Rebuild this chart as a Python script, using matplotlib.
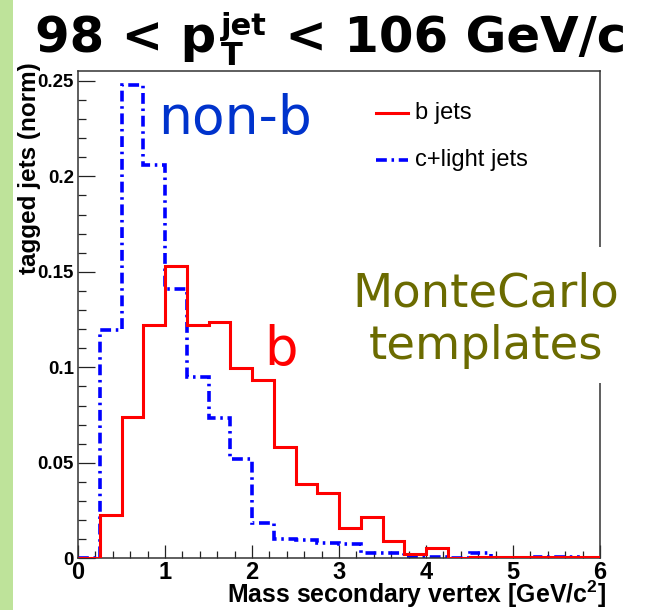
import numpy as np
import matplotlib
matplotlib.use("Agg")
import matplotlib.pyplot as plt
from matplotlib.patches import Rectangle
from matplotlib.ticker import MultipleLocator

plt.rcParams['mathtext.fontset'] = 'custom'
plt.rcParams['mathtext.bf'] = 'Liberation Sans:bold'
plt.rcParams['mathtext.rm'] = 'Liberation Sans'

# ---- data ----
bin_edges = np.arange(0, 6.0001, 0.25)
b_jets = [0.0, 0.0227, 0.0738, 0.1223, 0.1530, 0.1221, 0.1240, 0.0998,
          0.0932, 0.0583, 0.0387, 0.0340, 0.0160, 0.0214, 0.0089, 0.0023,
          0.0053, 0.0003, 0.0008, 0.0008, 0.0005, 0.0005, 0.0005, 0.0005]
c_light_jets = [0.0, 0.1195, 0.2478, 0.2059, 0.1410, 0.0948, 0.0733, 0.0520,
                0.0185, 0.0100, 0.0095, 0.0082, 0.0073, 0.0026, 0.0026, 0.0008,
                0.0008, 0.0002, 0.0026, 0.0002, 0.0002, 0.0008, 0.0008, 0.0003]
x_ticks = [0, 1, 2, 3, 4, 5, 6]
y_ticks = [0, 0.05, 0.1, 0.15, 0.2, 0.25]
y_tick_labels = ["0", "0.05", "0.1", "0.15", "0.2", "0.25"]

W, H = 648, 610
fig = plt.figure(figsize=(W / 100, H / 100), dpi=100)
fig.patch.set_facecolor('white')


def fx(px):
    return px / W


def fy(py):
    return (H - py) / H


# green strip at left
fig.patches.append(Rectangle((0, 0), 13 / W, 1, transform=fig.transFigure,
                             facecolor='#bee39a', edgecolor='none', zorder=0))

ax = fig.add_axes([78 / W, (H - 558.3) / H, 522 / W, 487.3 / H])
ax.set_xlim(0, 6)
ax.set_ylim(0, 0.2552)

dashdot = (0, (3.0, 1.3, 0.7, 1.3))
ax.stairs(c_light_jets, bin_edges, baseline=None, color='#0000ff', lw=2.6,
          linestyle=dashdot, zorder=2)
ax.stairs(b_jets, bin_edges, baseline=None, color='#ff0000', lw=2.2, zorder=3)

for s in ax.spines.values():
    s.set_color('#333333')
    s.set_linewidth(1.1)

ax.set_xticks(x_ticks)
ax.set_xticklabels([str(t) for t in x_ticks])
ax.xaxis.set_minor_locator(MultipleLocator(0.2))
ax.set_yticks(y_ticks)
ax.set_yticklabels(y_tick_labels)
ax.yaxis.set_minor_locator(MultipleLocator(0.01))
ax.tick_params(axis='x', which='major', direction='in', length=9.5, width=0.9,
               colors='#222222', pad=2, labelsize=17)
ax.tick_params(axis='x', which='minor', direction='in', length=5, width=0.9, colors='#222222')
ax.tick_params(axis='y', which='major', direction='in', length=12, width=0.9,
               colors='#222222', pad=3, labelsize=13.5)
ax.tick_params(axis='y', which='minor', direction='in', length=6, width=0.9, colors='#222222')
for lab in ax.get_xticklabels() + ax.get_yticklabels():
    lab.set_fontfamily('Liberation Sans')
    lab.set_fontweight('bold')
    lab.set_color('black')

# axis titles
fig.text(fx(606), fy(603), r"Mass secondary vertex [GeV/c$^\mathbf{2}$]",
         ha='right', va='baseline', fontsize=17.9, fontweight='bold',
         family='Liberation Sans')
fig.text(fx(30), fy(62), "tagged jets (norm)", rotation=90, ha='center',
         va='top', fontsize=17.5, fontweight='bold', family='Liberation Sans')

# title built from pieces
renderer = fig.canvas.get_renderer()
tkw = dict(fontweight='bold', family='DejaVu Sans', ha='left', va='baseline')
base = 52
x0 = 35
t1 = fig.text(fx(x0), fy(base), "98 < p", fontsize=35.8, **tkw)
w1 = t1.get_window_extent(renderer=renderer).width
xs = x0 + w1 + 4
t2 = fig.text(fx(xs), fy(base + 13), "T", fontsize=23, **tkw)
t3 = fig.text(fx(xs), fy(base - 17), "jet", fontsize=22, **tkw)
w23 = max(t2.get_window_extent(renderer=renderer).width,
          t3.get_window_extent(renderer=renderer).width)
t4 = fig.text(fx(xs + w23 + 2), fy(base), " < 106 GeV/c", fontsize=35.8, **tkw)
w4 = t4.get_window_extent(renderer=renderer).width
total = xs + w23 + 2 + w4 - x0
shift = (627 - x0 - total) / 2
for t in (t1, t2, t3, t4):
    px, py = t.get_position()
    t.set_position((px + shift / W, py))

# legend (manual, no box)
ax.plot([0.571, 0.632], [0.914, 0.914], transform=ax.transAxes, color='#ff0000', lw=2.2)
ax.plot([0.571, 0.632], [0.817, 0.817], transform=ax.transAxes, color='#0000ff', lw=2.6,
        linestyle=dashdot)
ax.text(0.6456, 0.914, "b jets", transform=ax.transAxes, va='center', ha='left',
        fontsize=17, family='Liberation Sans')
ax.text(0.6456, 0.817, "c+light jets", transform=ax.transAxes, va='center', ha='left',
        fontsize=17, family='Liberation Sans')

# annotations
fig.text(fx(158), fy(134), "non-b", color='#0033cc', fontsize=38.5,
         family='DejaVu Sans', ha='left', va='baseline')
fig.text(fx(264), fy(365), "b", color='#ff0000', fontsize=38,
         family='DejaVu Sans', ha='left', va='baseline')

# white box behind MonteCarlo text (covers frame)
fig.patches.append(Rectangle((588 / W, (H - 383) / H), 30 / W, 136 / H,
                             transform=fig.transFigure, facecolor='white',
                             edgecolor='none', zorder=5))
fig.text(fx(486), fy(320), "MonteCarlo\ntemplates", color='#6b6b00',
         fontsize=33.5, family='DejaVu Sans', ha='center', va='center',
         multialignment='center', linespacing=1.22, zorder=6)

fig.savefig("out.png", dpi=100)
